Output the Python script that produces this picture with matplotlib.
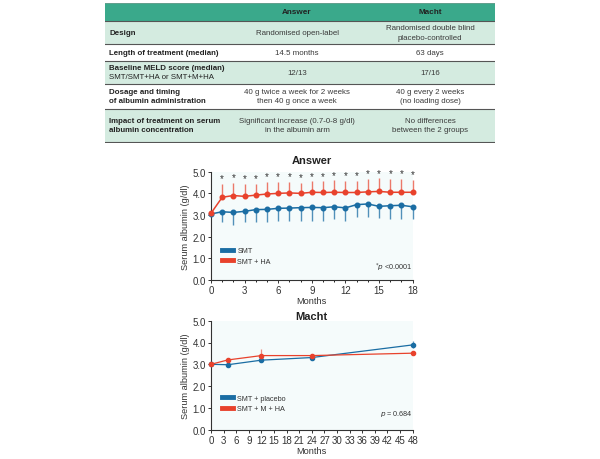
import numpy as np
import matplotlib.pyplot as plt
from matplotlib.patches import Rectangle
from matplotlib.ticker import MultipleLocator, FormatStrFormatter

plt.rcParams['font.family'] = ['Liberation Sans', 'DejaVu Sans']

# table
col_heads = ["Answer", "Macht"]
row_heads = ["Design", "Length of treatment (median)",
             "Baseline MELD score (median)\n", "Dosage and timing\nof albumin administration",
             "Impact of treatment on serum\nalbumin concentration"]
row_sub = ["", "", "SMT/SMT+HA or SMT+M+HA", "", ""]
answer_col = ["Randomised open-label", "14.5 months", "12/13",
              "40 g twice a week for 2 weeks\nthen 40 g once a week",
              "Significant increase (0.7-0-8 g/dl)\nin the albumin arm"]
macht_col = ["Randomised double blind\nplacebo-controlled", "63 days", "17/16",
             "40 g every 2 weeks\n(no loading dose)",
             "No differences\nbetween the 2 groups"]

# Answer trial, monthly
ans_months = list(range(19))
ans_smt = [3.05, 3.15, 3.12, 3.17, 3.25, 3.26, 3.31, 3.32, 3.34, 3.35, 3.34, 3.38, 3.33, 3.48, 3.51, 3.40, 3.43, 3.45, 3.38]
ans_smt_low = [3.05, 2.66, 2.54, 2.66, 2.66, 2.66, 2.74, 2.74, 2.72, 2.72, 2.74, 2.82, 2.71, 2.92, 2.89, 2.84, 2.82, 2.82, 2.82]
ans_ha = [3.08, 3.82, 3.90, 3.86, 3.92, 3.97, 4.00, 4.02, 4.00, 4.05, 4.04, 4.05, 4.04, 4.04, 4.07, 4.09, 4.05, 4.05, 4.05]
ans_ha_high = [3.08, 4.45, 4.50, 4.44, 4.45, 4.53, 4.53, 4.53, 4.50, 4.57, 4.55, 4.60, 4.58, 4.58, 4.68, 4.70, 4.68, 4.68, 4.62]

# Macht trial
macht_months = [0, 4, 12, 24, 48]
macht_placebo = [3.0, 2.98, 3.19, 3.31, 3.89]
macht_placebo_err = [0, 0, 0, 0, 0.16]
macht_ha = [3.0, 3.2, 3.4, 3.4, 3.51]
macht_ha_err = [0, 0.03, 0.32, 0.04, 0]

BLUE = "#1a6da3"
RED = "#e8422c"
GREEN = "#3aa98b"
LIGHT = "#d4ebe0"
TXT = "#333333"

fig = plt.figure(figsize=(6, 4.6), dpi=100)

# ---- table ----
tx = fig.add_axes([105/600, (460-144)/460, 390/600, 140/460])
tx.set_xlim(0, 390)
tx.set_ylim(140, 0)
tx.axis("off")
edges = [0, 18, 41, 58, 81, 106, 139]
fills = [GREEN, LIGHT, "white", LIGHT, "white", LIGHT]
for i in range(6):
    tx.add_patch(Rectangle((0, edges[i]), 390, edges[i+1]-edges[i], facecolor=fills[i], edgecolor="none"))
for e in edges[1:]:
    tx.plot([0, 390], [e, e], color="#555555", lw=0.8)
tx.plot([0, 390], [edges[0], edges[0]], color="#6a9f8f", lw=0.6)
c1, c2 = 192, 325
tx.text(c1, 9, col_heads[0], ha="center", va="center", fontsize=5.9, fontweight="bold", color="#222222")
tx.text(c2, 9, col_heads[1], ha="center", va="center", fontsize=5.9, fontweight="bold", color="#222222")
for i in range(5):
    yc = (edges[i+1] + edges[i+2]) / 2
    if row_sub[i]:
        tx.text(4, yc - 4.5, row_heads[i].strip(), ha="left", va="center", fontsize=5.7, fontweight="bold", color="#222222")
        tx.text(4, yc + 4.5, row_sub[i], ha="left", va="center", fontsize=5.7, color="#222222")
    else:
        tx.text(4, yc, row_heads[i], ha="left", va="center", fontsize=5.7, fontweight="bold", color="#222222", linespacing=1.4)
    tx.text(c1, yc, answer_col[i], ha="center", va="center", fontsize=5.7, color="#3a3a3a", linespacing=1.4)
    tx.text(c2, yc, macht_col[i], ha="center", va="center", fontsize=5.7, color="#3a3a3a", linespacing=1.4)


def style_axes(ax):
    ax.set_facecolor("#f5fbfb")
    ax.spines["top"].set_visible(False)
    ax.spines["right"].set_visible(False)
    for s in ["left", "bottom"]:
        ax.spines[s].set_color(TXT)
        ax.spines[s].set_linewidth(0.8)
    ax.set_ylim(0, 5)
    ax.yaxis.set_major_locator(MultipleLocator(1))
    ax.yaxis.set_major_formatter(FormatStrFormatter("%.1f"))
    ax.tick_params(labelsize=7, colors=TXT, length=2.5, width=0.7, pad=1)
    ax.tick_params(which="minor", length=1.5, width=0.6)
    ax.set_ylabel("Serum albumin (g/dl)", fontsize=6.6, color=TXT, labelpad=2)
    ax.set_xlabel("Months", fontsize=6.6, color=TXT, labelpad=1)


# ---- Answer ----
ax1 = fig.add_axes([211/600, (460-281)/460, 201.7/600, 108.3/460])
style_axes(ax1)
ax1.set_xlim(0, 18)
ax1.xaxis.set_major_locator(MultipleLocator(3))
ax1.xaxis.set_minor_locator(MultipleLocator(1))
smt = np.array(ans_smt)
ha = np.array(ans_ha)
ax1.errorbar(ans_months, smt, yerr=[smt - np.array(ans_smt_low), np.zeros_like(smt)],
             fmt="none", ecolor=BLUE, elinewidth=1.0, capsize=0, alpha=0.75, clip_on=False)
ax1.errorbar(ans_months, ha, yerr=[np.zeros_like(ha), np.array(ans_ha_high) - ha],
             fmt="none", ecolor=RED, elinewidth=1.0, capsize=0, alpha=0.7, clip_on=False)
ax1.plot(ans_months, smt, color=BLUE, lw=1.1, marker="o", ms=3.3, clip_on=False, zorder=3)
ax1.plot(ans_months, ha, color=RED, lw=1.1, marker="o", ms=3.3, clip_on=False, zorder=3)
for m, top in zip(ans_months[1:], ans_ha_high[1:]):
    ax1.text(m, top + 0.25, "*", ha="center", va="center", fontsize=7, color=TXT)
ax1.plot([], [], color=BLUE, lw=3.5, label="SMT")
ax1.plot([], [], color=RED, lw=3.5, label="SMT + HA")
h, l = ax1.get_legend_handles_labels()
ax1.legend(h[-2:], l[-2:], loc="lower left", bbox_to_anchor=(0.02, 0.08), frameon=False,
           fontsize=5.2, handlelength=1.6, handletextpad=0.6, labelspacing=0.5, labelcolor=TXT)
ax1.text(14.6, 0.62, r"$^{*}$$\it{p}$ <0.0001", fontsize=5.2, color=TXT, va="center")
ax1.set_title("Answer", fontsize=8, fontweight="bold", color="#222222", pad=6)

# ---- Macht ----
ax2 = fig.add_axes([211/600, (460-430.7)/460, 201.7/600, 109/460])
style_axes(ax2)
ax2.set_xlim(0, 48)
ax2.xaxis.set_major_locator(MultipleLocator(3))
ax2.errorbar(macht_months, macht_placebo, yerr=macht_placebo_err, fmt="none", ecolor=BLUE,
             elinewidth=0.9, capsize=0, alpha=0.7, clip_on=False)
ax2.errorbar(macht_months, macht_ha, yerr=[np.zeros(5), macht_ha_err], fmt="none", ecolor=RED,
             elinewidth=0.9, capsize=0, alpha=0.6, clip_on=False)
ax2.plot(macht_months, macht_placebo, color=BLUE, lw=0.9, marker="o", ms=3, clip_on=False, zorder=3)
ax2.plot(macht_months, macht_ha, color=RED, lw=0.9, marker="o", ms=3, clip_on=False, zorder=3)
ax2.plot([], [], color=BLUE, lw=3.5, label="SMT + placebo")
ax2.plot([], [], color=RED, lw=3.5, label="SMT + M + HA")
h, l = ax2.get_legend_handles_labels()
ax2.legend(h[-2:], l[-2:], loc="lower left", bbox_to_anchor=(0.02, 0.1), frameon=False,
           fontsize=5.2, handlelength=1.6, handletextpad=0.6, labelspacing=0.5, labelcolor=TXT)
ax2.text(40.3, 0.77, r"$\it{p}$ = 0.684", fontsize=5.2, color=TXT, va="center")
ax2.set_title("Macht", fontsize=8, fontweight="bold", color="#222222", pad=1)

fig.savefig("out.png", dpi=100)
